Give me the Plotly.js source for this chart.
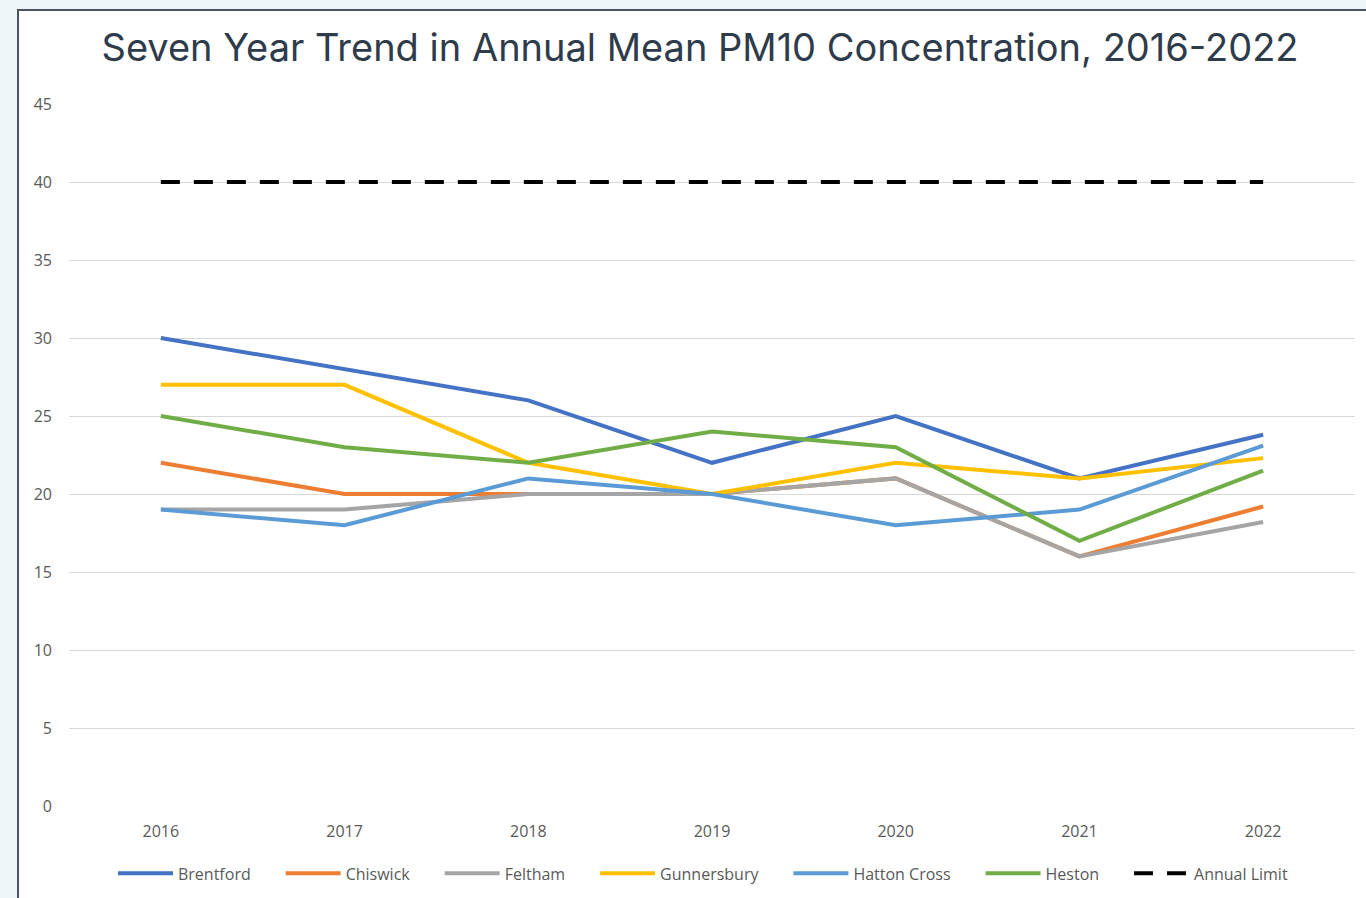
<!DOCTYPE html>
<html>
<head>
<meta charset="utf-8">
<script src="https://cdn.plot.ly/plotly-3.0.1.min.js"></script>
<style>
html,body{margin:0;padding:0;background:#eef6f9;width:1366px;height:898px;overflow:hidden;}
#frame{position:absolute;left:17px;top:9px;width:1360px;height:900px;border-left:2px solid #4b5560;border-top:2px solid #4b5560;background:#fff;}
#chart{width:1347px;height:887px;}
</style>
</head>
<body>
<div id="frame"><div id="chart"></div></div>
<script>
const years = ["2016","2017","2018","2019","2020","2021","2022"];
const brentford   = [30, 28, 26, 22, 25, 21, 23.8];
const chiswick    = [22, 20, 20, 20, 21, 16, 19.2];
const feltham     = [19, 19, 20, 20, 21, 16, 18.2];
const gunnersbury = [27, 27, 22, 20, 22, 21, 22.3];
const hattonCross = [19, 18, 21, 20, 18, 19, 23.1];
const heston      = [25, 23, 22, 24, 23, 17, 21.5];
const annualLimit = [40, 40, 40, 40, 40, 40, 40];
const yTicks = [0, 5, 10, 15, 20, 25, 30, 35, 40, 45];

const pad = "\u00a0\u00a0\u00a0\u00a0\u00a0\u00a0";
const series = [
  {name:"Brentford", y:brentford, color:"#4472C4"},
  {name:"Chiswick", y:chiswick, color:"#ED7D31"},
  {name:"Feltham", y:feltham, color:"#A5A5A5"},
  {name:"Gunnersbury", y:gunnersbury, color:"#FFC000"},
  {name:"Hatton Cross", y:hattonCross, color:"#5B9BD5"},
  {name:"Heston", y:heston, color:"#70AD47"}
];
const traces = series.map(s => ({
  type:"scatter", mode:"lines", x:years, y:s.y, name:s.name + pad,
  line:{color:s.color, width:4}
}));
traces.push({type:"scatter", mode:"lines", x:years, y:annualLimit, name:"Annual Limit",
  line:{color:"#000000", width:4, dash:"19px,14px"}});

const layout = {
  width:1347, height:887,
  margin:{l:50, r:11, t:93, b:92, autoexpand:false},
  paper_bgcolor:"#ffffff", plot_bgcolor:"#ffffff",
  title:{text:"Seven Year Trend in Annual Mean PM10 Concentration, 2016-2022",
    font:{family:"Inter, 'Liberation Sans', sans-serif", size:38, color:"#2e3b4b"},
    x:0.5056, xanchor:"center", y:0.959, yanchor:"middle"},
  xaxis:{type:"category", range:[-0.5,6.5], showgrid:false, zeroline:false, showline:false,
    ticks:"", ticklabelstandoff:14,
    tickfont:{family:"'Open Sans', sans-serif", size:16, color:"#595959"}},
  yaxis:{range:[0,45], tickvals:yTicks, showgrid:true, gridcolor:"#d9d9d9", gridwidth:1,
    zeroline:false, showline:false, ticks:"", ticklabelstandoff:16,
    tickfont:{family:"'Open Sans', sans-serif", size:16, color:"#595959"}},
  showlegend:true,
  legend:{orientation:"h", x:0.493, xanchor:"center", y:-0.096, yanchor:"middle",
    itemwidth:55, font:{family:"'Open Sans', sans-serif", size:16, color:"#595959"},
    traceorder:"normal"}
};
Plotly.newPlot("chart", traces, layout, {displayModeBar:false, staticPlot:true});
</script>
</body>
</html>
